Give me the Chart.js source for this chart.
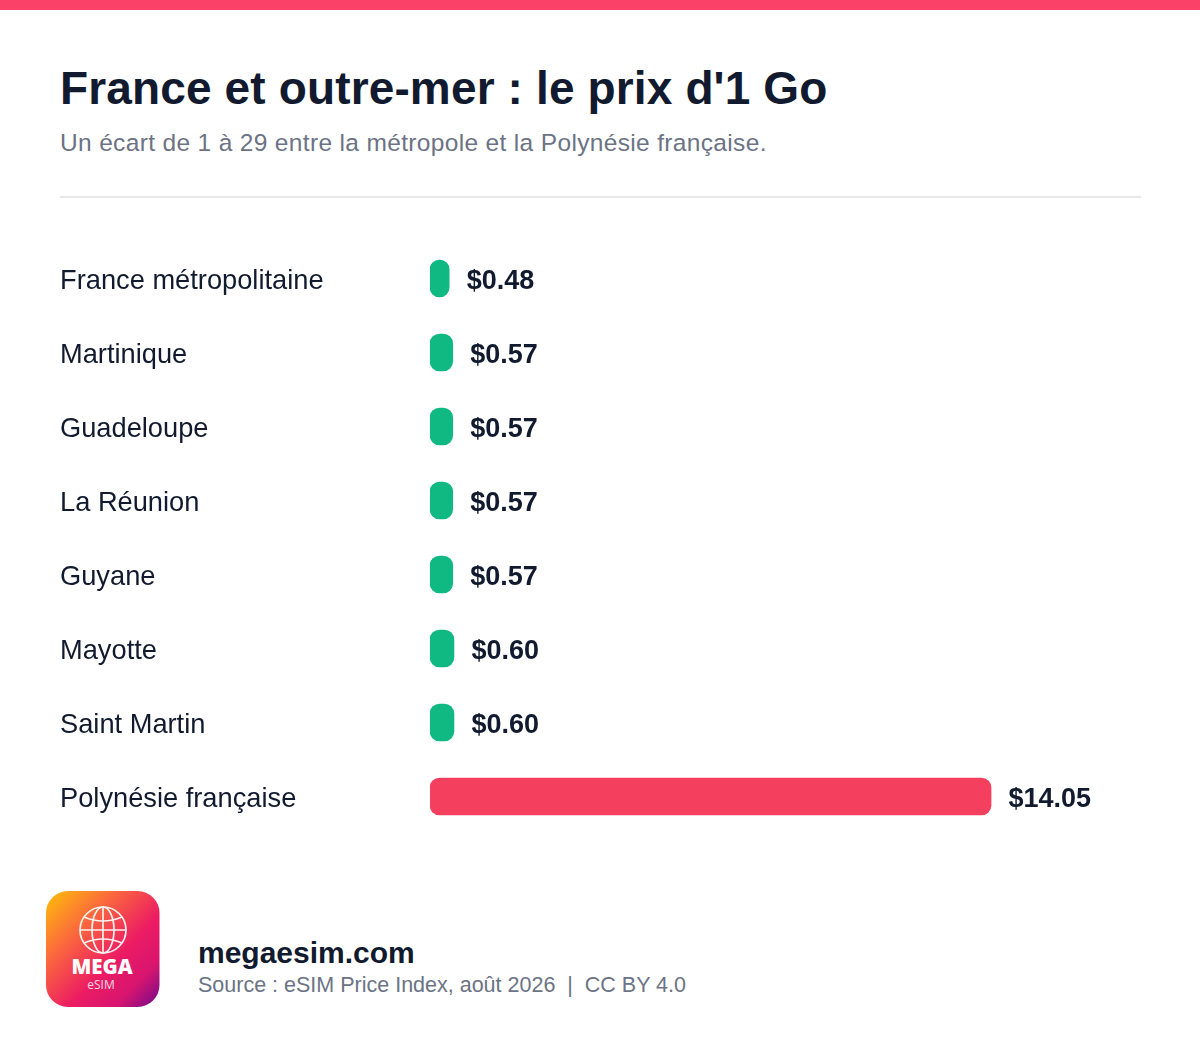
<!DOCTYPE html>
<html lang="fr">
<head>
<meta charset="utf-8">
<title>France et outre-mer : le prix d'1 Go</title>
<script src="https://cdn.jsdelivr.net/npm/chart.js@4/dist/chart.umd.min.js"></script>
<style>
  html, body { margin: 0; padding: 0; background: #fff; }
  body { position: relative; width: 1200px; height: 1052px; overflow: hidden; font-family: "Liberation Sans", Arial, sans-serif; }
  .band { position: absolute; left: 0; top: 0; width: 1200px; height: 10px; background: #fb4167; }
  .text { position: absolute; white-space: nowrap; line-height: 1; }
  #title { left: 60px; top: 65px; font-size: 46px; font-weight: 700; color: #111a2e; letter-spacing: 0.14px; }
  #subtitle { left: 60px; top: 131px; font-size: 24.5px; color: #6b7385; letter-spacing: 0.34px; }
  .rule { position: absolute; left: 60px; top: 196px; width: 1081px; height: 2px; background: #e5e7eb; }
  #chartBox { position: absolute; left: 60px; top: 241px; width: 1080px; height: 593px; }
  #logo { position: absolute; left: 46px; top: 891px; }
  #site { left: 198px; top: 938px; font-size: 30px; font-weight: 700; color: #111a2e; }
  #source { left: 198px; top: 975px; font-size: 21.5px; color: #6b7385; }
</style>
</head>
<body>
<div class="band"></div>
<div class="text" id="title">France et outre-mer : le prix d'1 Go</div>
<div class="text" id="subtitle">Un écart de 1 à 29 entre la métropole et la Polynésie française.</div>
<div class="rule"></div>
<div id="chartBox"><canvas id="priceChart"></canvas></div>

<svg id="logo" width="114" height="116" viewBox="0 0 114 116">
  <defs>
    <linearGradient id="logoFill" x1="0" y1="0" x2="1" y2="1">
      <stop offset="0" stop-color="#ffc107"/>
      <stop offset="0.3" stop-color="#fb6a3c"/>
      <stop offset="0.6" stop-color="#ec1c63"/>
      <stop offset="0.8" stop-color="#d8156f"/>
      <stop offset="1" stop-color="#6f0a8c"/>
    </linearGradient>
  </defs>
  <rect width="113.5" height="116" rx="22" fill="url(#logoFill)"/>
  <g fill="none" stroke="#fff" stroke-width="1.7" opacity="0.92">
    <circle cx="57" cy="39" r="23"/>
    <ellipse cx="57" cy="39" rx="11" ry="23"/>
    <line x1="57" y1="16" x2="57" y2="62"/>
    <line x1="34" y1="39" x2="80" y2="39"/>
    <path d="M38 26 Q57 34 76 26"/>
    <path d="M38 52 Q57 44 76 52"/>
  </g>
  <text x="56" y="83" text-anchor="middle" fill="#fff" font-family="Open Sans" font-weight="800" font-size="20.5">MEGA</text>
  <text x="55" y="98" text-anchor="middle" fill="#fff" fill-opacity="0.85" font-family="Open Sans" font-size="12">eSIM</text>
</svg>
<div class="text" id="site">megaesim.com</div>
<div class="text" id="source">Source : eSIM Price Index, août 2026&nbsp; |&nbsp; CC BY 4.0</div>

<script>
const territories = ['France métropolitaine', 'Martinique', 'Guadeloupe', 'La Réunion', 'Guyane', 'Mayotte', 'Saint Martin', 'Polynésie française'];
const prices = [0.48, 0.57, 0.57, 0.57, 0.57, 0.60, 0.60, 14.05];
const barColors = ['#10b981', '#10b981', '#10b981', '#10b981', '#10b981', '#10b981', '#10b981', '#f43f5e'];

// Prints the price just after the end of each bar
const priceLabels = {
  id: 'priceLabels',
  afterDatasetsDraw(chart) {
    const ctx = chart.ctx;
    const bars = chart.getDatasetMeta(0).data;
    ctx.save();
    ctx.font = 'bold 27px "Liberation Sans"';
    ctx.fillStyle = '#111a2e';
    ctx.textAlign = 'left';
    ctx.textBaseline = 'middle';
    bars.forEach(function(bar, i) {
      ctx.fillText('$' + prices[i].toFixed(2), bar.x + 17.5, bar.y + 3);
    });
    ctx.restore();
  }
};

new Chart(document.getElementById('priceChart'), {
  type: 'bar',
  data: {
    labels: territories,
    datasets: [{
      data: prices,
      backgroundColor: barColors,
      borderRadius: 10,
      borderSkipped: false,
      barThickness: 37
    }]
  },
  options: {
    indexAxis: 'y',
    responsive: true,
    maintainAspectRatio: false,
    animation: false,
    layout: { padding: { top: 0.5, bottom: 0.5 } },
    plugins: {
      legend: { display: false },
      tooltip: { enabled: false }
    },
    scales: {
      x: {
        display: false,
        min: 0,
        max: 17.78
      },
      y: {
        border: { display: false },
        grid: { display: false, drawTicks: false },
        afterFit: function(axis) {
          // fixed label column, and rows that fill the whole height
          axis.width = 370;
          axis.paddingTop = 0;
          axis.paddingBottom = 0;
        },
        ticks: {
          crossAlign: 'far',
          color: '#111a2e',
          padding: 0,
          labelOffset: 2.5,
          font: { family: '"Liberation Sans"', size: 27.25 }
        }
      }
    }
  },
  plugins: [priceLabels]
});
</script>
</body>
</html>
